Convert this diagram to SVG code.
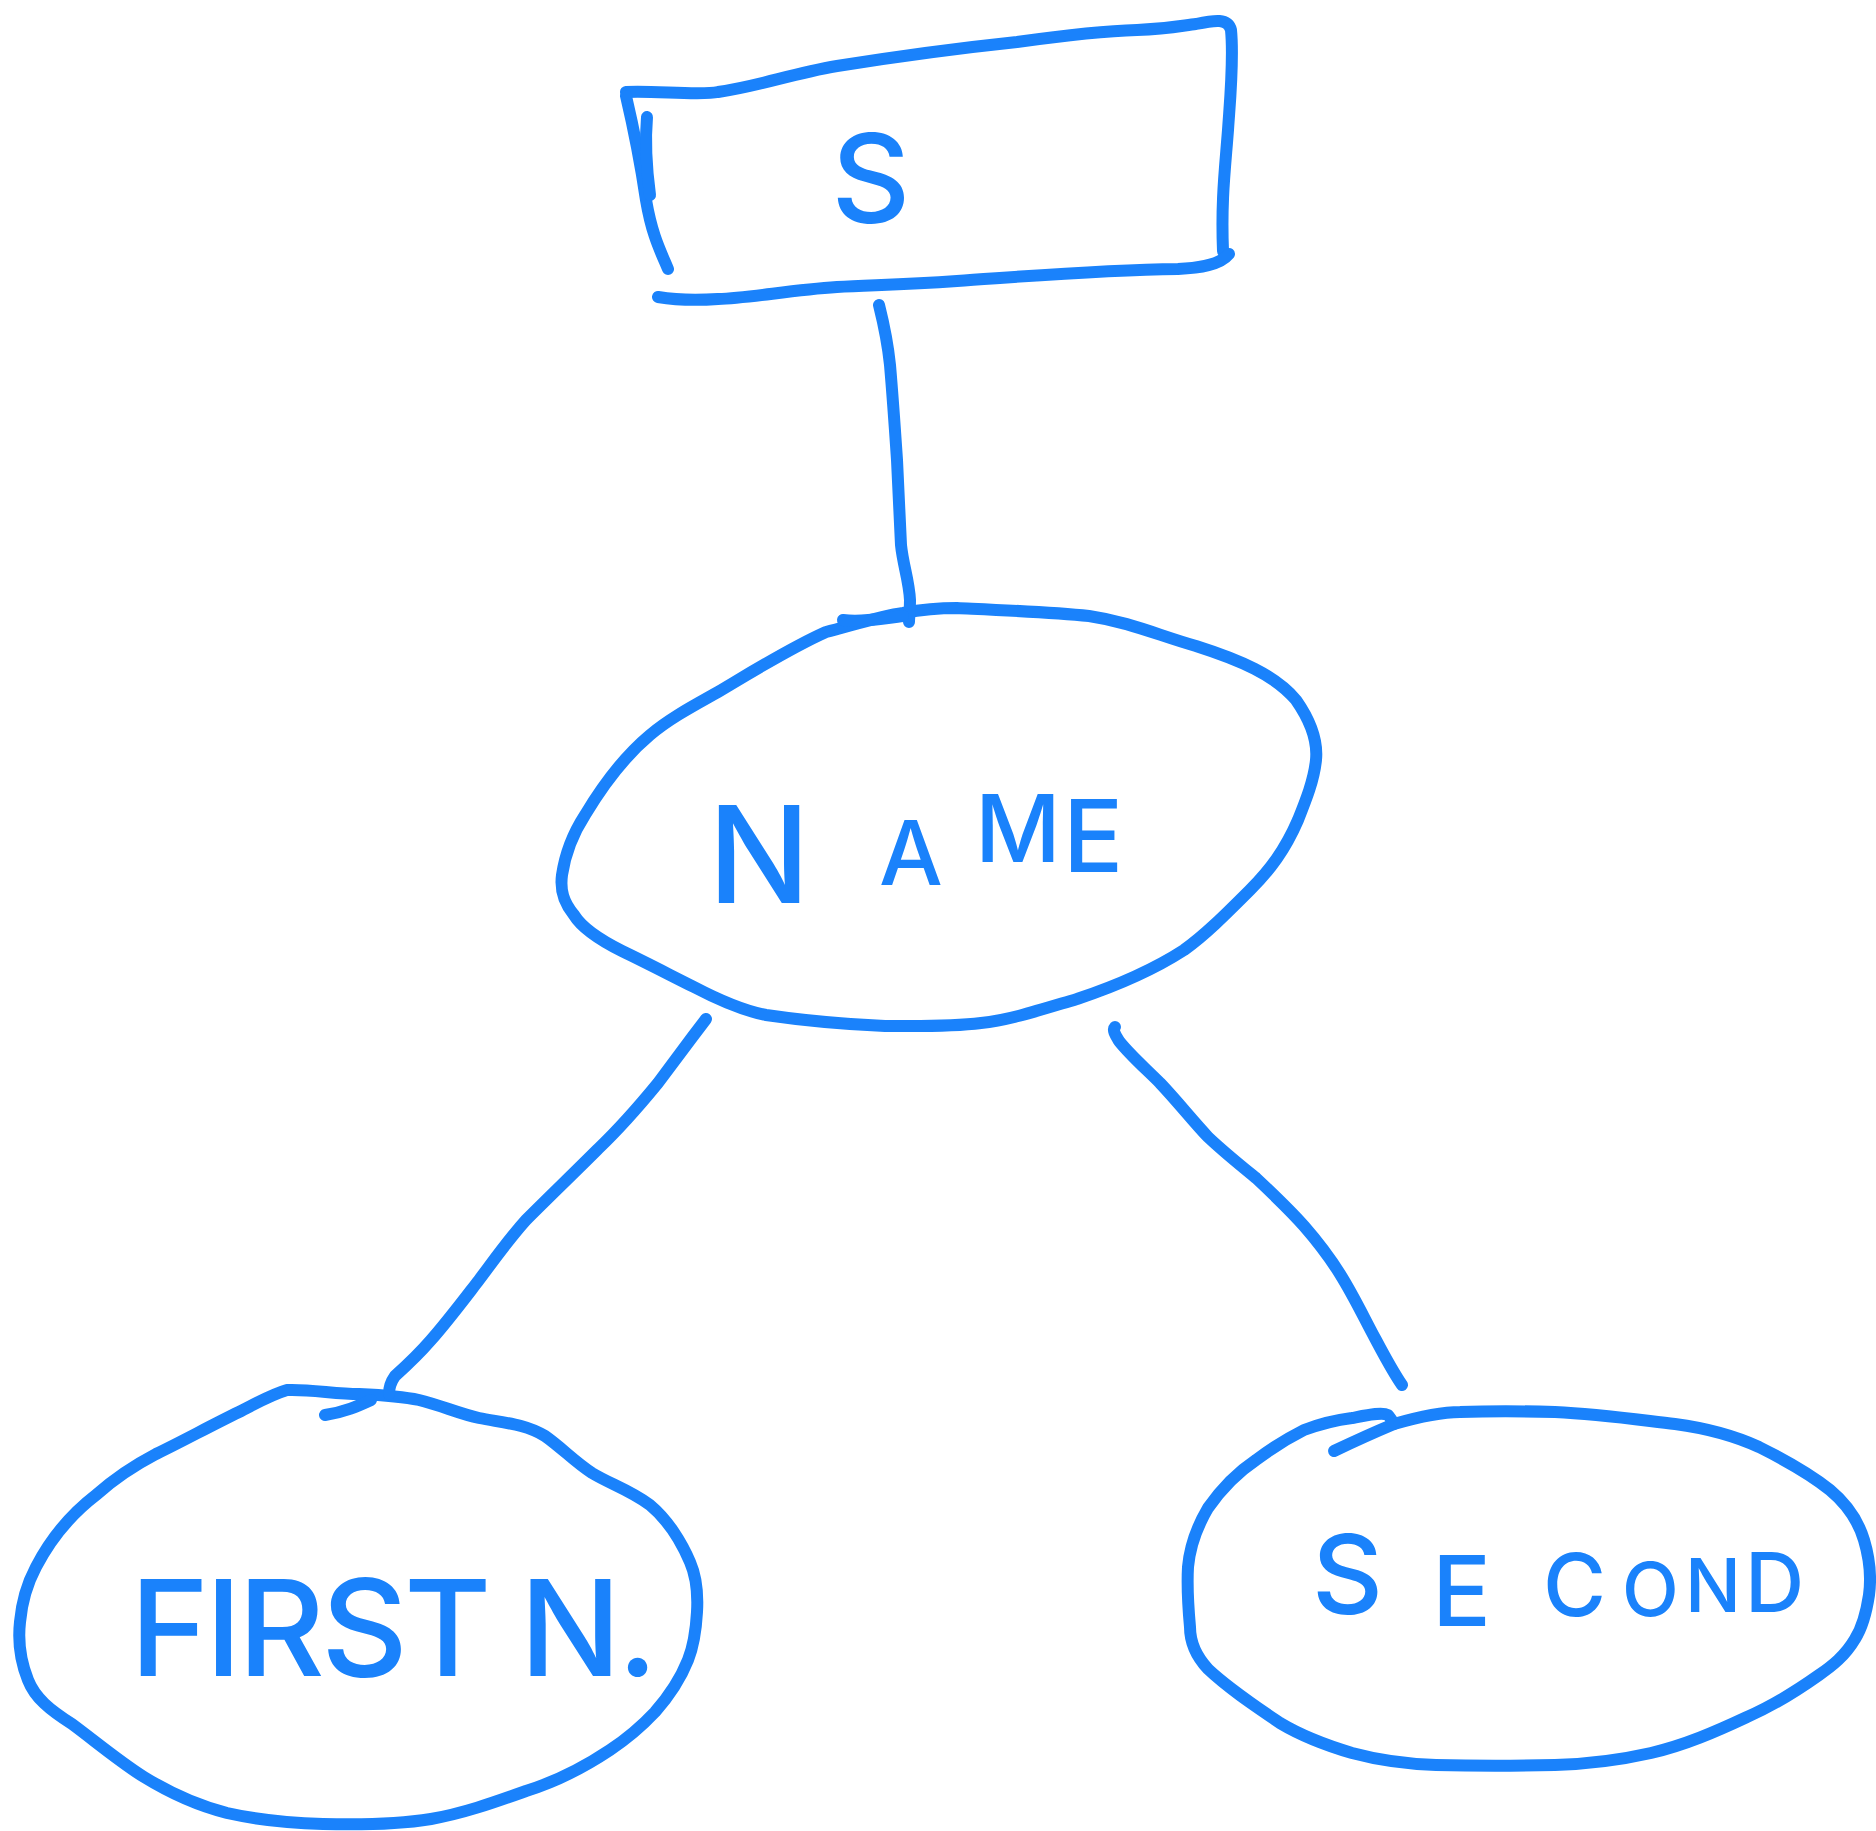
<svg xmlns="http://www.w3.org/2000/svg" width="1876" height="1831" viewBox="0 0 1876 1831">
<style>
.s{fill:none;stroke:#1a82fb;stroke-width:12;stroke-linecap:round;stroke-linejoin:round}
.t{fill:#1a82fb;font-family:Inter,"Liberation Sans",sans-serif;font-weight:500}
</style>
<rect width="1876" height="1831" fill="#ffffff"/>
<g id="entity-S">
<path class="s" d="M626,92 C650,90 700,96 718,92 C760,86 790,74 837,66 C900,56 960,48 1017,42 C1060,36 1100,31 1137,30 C1170,29 1185,25 1196,24 C1215,20 1228,18 1231,30 C1234,60 1230,100 1228,130 C1225,170 1221,200 1223,251"/>
<path class="s" d="M1229,254 C1220,265 1200,268 1178,269 C1100,270 1030,276 957,281 C900,285 870,285 837,287 C790,290 750,298 718,299 C690,301 670,299 658,297"/>
<path class="s" d="M626,96 C634,130 640,160 646,200 C652,235 660,250 668,269"/>
<path class="s" d="M647,117 C645,140 646,165 650,195"/>
<text class="t" x="871" y="222" font-size="122" text-anchor="middle">S</text>
</g>
<g id="attr-NAME">
<path class="s" d="M826,632 C850,626 880,616 903,613 C925,609 940,608 957,608 C1000,610 1050,612 1089,616 C1130,622 1160,636 1196,646 C1240,660 1275,675 1296,700 C1310,720 1318,740 1316,760 C1314,780 1306,800 1298,820 C1285,850 1270,870 1250,890 C1225,915 1205,935 1184,950 C1150,972 1110,988 1077,999 C1040,1010 1010,1020 981,1023 C950,1027 915,1026 885,1026 C840,1024 800,1020 766,1015 C740,1010 715,998 694,987 C670,975 645,962 622,951 C600,940 582,928 574,915 C563,902 560,890 562,875 C565,855 572,835 585,815 C600,790 620,760 650,735 C670,718 695,705 718,692 C750,673 790,648 826,632"/>
<text class="t" font-size="135"><tspan x="708" y="903">N</tspan><tspan x="879" y="885" font-size="90">A</tspan><tspan x="975" y="862" font-size="94">M</tspan><tspan x="1063" y="872" font-size="100">E</tspan></text>
</g>
<g id="attr-FIRST">
<path class="s" d="M287,1390 C310,1389 335,1394 359,1394 C380,1395 400,1396 419,1400 C440,1405 460,1414 479,1418 C505,1423 525,1424 545,1436 C562,1448 575,1462 592,1473 C610,1484 630,1490 650,1505 C668,1520 682,1543 690,1562 C697,1578 698,1595 697,1612 C696,1630 694,1645 688,1660 C680,1680 670,1695 655,1712 C640,1728 625,1740 610,1750 C580,1770 555,1782 526,1791 C495,1802 465,1813 431,1819 C400,1824 360,1825 323,1824 C290,1823 258,1820 227,1813 C195,1805 170,1793 144,1777 C120,1762 95,1741 72,1724 C50,1710 35,1698 28,1680 C20,1660 18,1640 20,1622 C22,1600 28,1582 36,1567 C50,1540 70,1515 96,1495 C115,1478 135,1465 156,1454 C185,1440 210,1426 239,1412 C255,1404 270,1395 287,1390"/>
<text class="t" x="130" y="1676" font-size="134" textLength="528" lengthAdjust="spacing">FIRST N.</text>
</g>
<g id="attr-SECOND">
<path class="s" d="M1394,1424 C1415,1418 1440,1412 1460,1412 C1490,1411 1520,1411 1555,1412 C1600,1414 1640,1420 1675,1424 C1705,1428 1735,1436 1759,1447 C1785,1460 1810,1474 1830,1490 C1848,1505 1858,1520 1864,1540 C1870,1560 1871,1580 1869,1595 C1866,1615 1862,1628 1855,1639 C1845,1656 1832,1666 1819,1675 C1795,1692 1770,1707 1747,1717 C1715,1732 1685,1745 1651,1753 C1620,1760 1590,1764 1555,1765 C1515,1766 1475,1766 1436,1765 C1405,1764 1378,1760 1352,1753 C1325,1745 1300,1735 1280,1723 C1255,1706 1228,1688 1208,1669 C1195,1655 1190,1640 1190,1627 C1188,1605 1187,1585 1188,1567 C1190,1545 1198,1525 1208,1508 C1222,1488 1238,1472 1256,1460 C1272,1448 1288,1438 1304,1430 C1320,1424 1336,1420 1352,1418 C1368,1415 1382,1412 1388,1415 C1391,1419 1393,1421 1394,1424"/>
<text class="t" font-size="110"><tspan x="1312" y="1614">S</tspan><tspan x="1432" y="1626" font-size="98">E</tspan><tspan x="1543" y="1616" font-size="86">C</tspan><tspan x="1622" y="1616" font-size="74">O</tspan><tspan x="1685" y="1612" font-size="74">N</tspan><tspan x="1745" y="1612" font-size="82">D</tspan></text>
</g>
<g id="connectors">
<path class="s" d="M879,305 C884,325 888,345 890,365 C893,400 895,430 897,460 C899,500 900,525 901,545 C903,565 909,580 910,600 C910,610 909,618 909,622"/>
<path class="s" d="M843,620 C860,622 880,619 903,616"/>
<path class="s" d="M706,1019 C690,1040 675,1060 658,1083 C640,1105 620,1128 598,1149 C575,1172 550,1196 526,1220 C508,1240 494,1260 479,1280 C462,1302 447,1322 431,1340 C418,1355 405,1367 395,1376 C390,1383 389,1388 389,1394"/>
<path class="s" d="M325,1415 C345,1412 358,1406 371,1400"/>
<path class="s" d="M1115,1027 C1112,1030 1116,1036 1119,1041 C1130,1055 1145,1068 1160,1083 C1178,1102 1192,1120 1208,1137 C1225,1153 1240,1165 1256,1178 C1273,1194 1290,1210 1304,1226 C1318,1242 1330,1258 1340,1274 C1355,1298 1365,1320 1376,1340 C1385,1357 1393,1372 1402,1385"/>
<path class="s" d="M1334,1451 C1355,1441 1375,1432 1394,1424"/>
</g>
</svg>
